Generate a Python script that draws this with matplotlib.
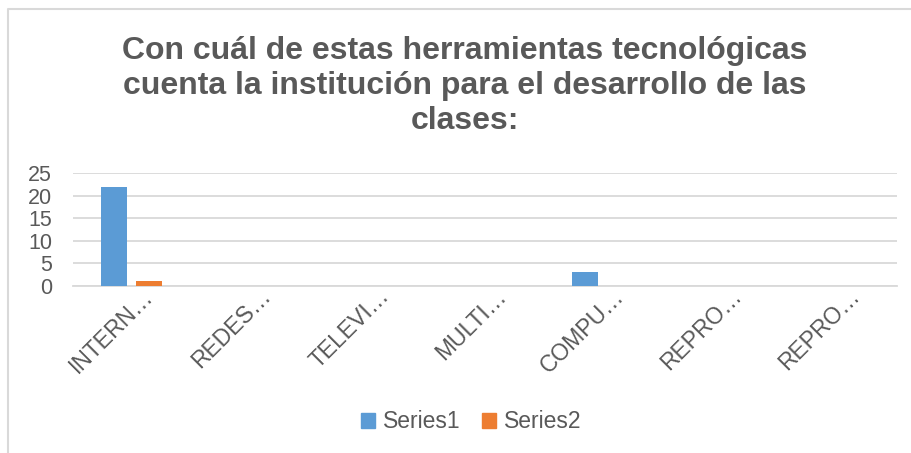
import matplotlib
matplotlib.use("Agg")
from matplotlib import pyplot as plt
from matplotlib.lines import Line2D
from matplotlib.patches import Patch
import matplotlib.transforms as mtransforms
import numpy as np

plt.rcParams['font.family'] = ['Liberation Sans', 'DejaVu Sans']

categorias = ['INTERN…', 'REDES…', 'TELEVI…', 'MULTI…', 'COMPU…', 'REPRO…', 'REPRO…']
series1 = [22, 0, 0, 0, 3, 0, 0]
series2 = [1, 0, 0, 0, 0, 0, 0]
titulo = 'Con cuál de estas herramientas tecnológicas\ncuenta la institución para el desarrollo de las\nclases:'

azul = '#5B9BD5'
naranja = '#ED7D31'
gris_texto = '#595959'

W, H = 911, 453
fig = plt.figure(figsize=(W / 100, H / 100), dpi=100)
fig.patch.set_facecolor('white')

# marco del gráfico (solo se ve arriba e izquierda)
fig.add_artist(Line2D([8 / W, 8 / W, 1], [0, 1 - 9 / H, 1 - 9 / H],
                      transform=fig.transFigure, color='#D9D9D9', lw=1.5))

ax = fig.add_axes([73 / W, 1 - 286 / H, (897 - 73) / W, (286 - 173) / H])
x = np.arange(len(categorias))
ancho = 0.22
ax.bar(x - 0.149, series1, ancho, color=azul, zorder=3)
ax.bar(x + 0.149, series2, ancho, color=naranja, zorder=3)

ax.set_xlim(-0.5, len(categorias) - 0.5)
ax.set_ylim(0, 25)
ax.set_yticks([0, 5, 10, 15, 20, 25])
ax.yaxis.grid(True, color='#D9D9D9', lw=1.3)
ax.set_axisbelow(True)
for s in ['top', 'right', 'left']:
    ax.spines[s].set_visible(False)
ax.spines['bottom'].set_color('#D9D9D9')
ax.spines['bottom'].set_linewidth(1.3)
ax.tick_params(axis='y', length=0, labelsize=15.5, labelcolor=gris_texto, pad=15)
ax.tick_params(axis='x', length=0)
ax.set_xticks(x)
ax.set_xticklabels(categorias, rotation=45, ha='right', va='center',
                   rotation_mode='anchor', fontsize=16.5, color=gris_texto)
desplaz = mtransforms.ScaledTranslation(0.18, -0.02, fig.dpi_scale_trans)
for lab in ax.get_xticklabels():
    lab.set_transform(lab.get_transform() + desplaz)

fig.text(465 / W, 1 - 36 / H, titulo, ha='center', va='top', fontsize=23,
         fontweight='bold', color=gris_texto, linespacing=1.22)

handles = [Patch(color=azul, label='Series1'), Patch(color=naranja, label='Series2')]
fig.legend(handles=handles, loc='center', bbox_to_anchor=(471 / W, 1 - 422 / H),
           ncol=2, frameon=False, fontsize=16.5, handlelength=0.6, handleheight=0.6,
           handletextpad=0.35, columnspacing=0.95, labelcolor=gris_texto)

fig.savefig('out.png', dpi=100)
